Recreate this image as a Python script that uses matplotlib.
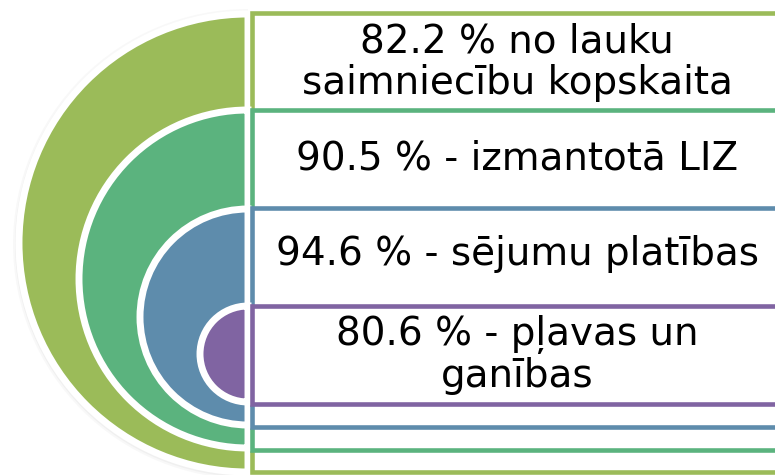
import matplotlib.pyplot as plt
from matplotlib.patches import Wedge, Rectangle

# data
values = [82.2, 90.5, 94.6, 80.6]
labels = ["no lauku\nsaimniecību kopskaita", "- izmantotā LIZ",
          "- sējumu platības", "- pļavas un\nganības"]
colors = ["#9BBB59", "#5BB37E", "#5E8CAC", "#8064A2"]

# layout in pixels (y down)
centers_y = [243, 279, 317, 354]
radii = [229, 169, 108, 48]
rect_top = [13, 110, 208, 306]
rect_bot = [472, 450, 427, 404]
text_y = [62, 159, 254, 355]
cx = 248

fig = plt.figure(figsize=(7.75, 4.75), dpi=100)
ax = fig.add_axes([0, 0, 1, 1])
ax.set_xlim(0, 775)
ax.set_ylim(475, 0)
ax.set_aspect("equal")
ax.axis("off")

# soft shadow behind the outer arc
for k, a in [(6, 0.05), (4, 0.07), (2, 0.09)]:
    ax.add_patch(Wedge((cx, centers_y[0] + 1), radii[0] + k, 90, 270,
                       facecolor="#888888", edgecolor="none", alpha=a))

for i in range(len(values)):
    ax.add_patch(Wedge((cx, centers_y[i]), radii[i], 90, 270,
                       facecolor=colors[i], edgecolor="white", linewidth=5))
    ax.add_patch(Rectangle((252, rect_top[i]), 560, rect_bot[i] - rect_top[i],
                           facecolor="white", edgecolor=colors[i], linewidth=3.3))

for i, v in enumerate(values):
    txt = f"{v} % {labels[i]}"
    ax.text(517, text_y[i], txt, ha="center", va="center", fontsize=28,
            family="DejaVu Sans", linespacing=1.12, color="black")

fig.savefig("out.png", dpi=100)
